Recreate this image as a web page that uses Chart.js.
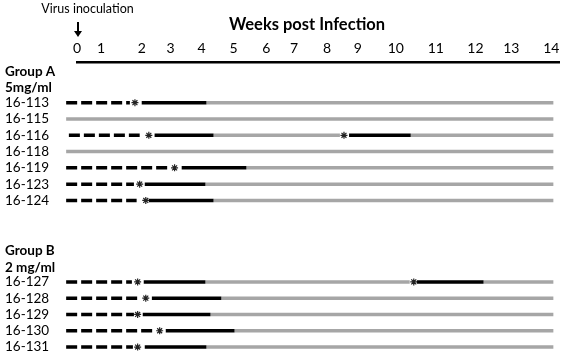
<!DOCTYPE html>
<html>
<head>
<meta charset="utf-8">
<script src="https://cdn.jsdelivr.net/npm/chart.js"></script>
<style>
  body { margin: 0; background: #fff; }
  canvas { display: block; }
</style>
</head>
<body>
<canvas id="chart" width="565" height="364"></canvas>
<script>
// rows of the figure
const groupLabels = ['Group A', 'Group B'];
const doseLabels = ['5mg/ml', '2 mg/ml'];
const animalsA = ['16-113', '16-115', '16-116', '16-118', '16-119', '16-123', '16-124'];
const animalsB = ['16-127', '16-128', '16-129', '16-130', '16-131'];

// week axis labels and where they sit on the (week) scale
const weekLabels = ['0', '1', '2', '3', '4', '5', '6', '7', '8', '9', '10', '11', '12', '13', '14'];
const weekLabelAt = [0, 0.71, 1.91, 2.76, 3.68, 4.62, 5.59, 6.41, 7.38, 8.29, 9.41, 10.59, 11.76, 12.82, 14];

// per animal (A then B), values in weeks
const lineFrom = -0.32;
const lineTo = 14.06;
const dashFrom = [-0.32, null, -0.24, null, -0.32, -0.32, -0.32, -0.32, -0.32, -0.32, -0.32, -0.32];
const dashTo = [1.56, null, 1.85, null, 2.68, 1.68, 1.76, 1.62, 1.85, 1.68, 2.29, 1.65];
const stars = [[1.71], [], [2.12, 7.88], [], [2.88], [1.85], [2.03], [1.79, 9.94], [2.03], [1.79], [2.44], [1.79]];
const solidFrom = [[1.91], [], [2.29, 8.03], [], [3.09], [2.0], [2.12], [1.97, 10.03], [2.21], [1.94], [2.62], [2.0]];
const solidTo = [[3.82], [], [4.03, 9.85], [], [5.0], [3.79], [4.03], [3.79, 12.0], [4.26], [3.94], [4.65], [3.82]];

// row numbers on the y scale
const rowsA = animalsA.map((a, i) => i);
const rowsB = animalsB.map((a, i) => 11 + i);
const rows = rowsA.concat(rowsB);

const yTicks = [
    { v: rowsA[0] - 1.9, t: groupLabels[0], bold: true },
    { v: rowsA[0] - 0.9, t: doseLabels[0], bold: true },
    ...animalsA.map((a, i) => ({ v: rowsA[i], t: a })),
    { v: rowsB[0] - 1.9, t: groupLabels[1], bold: true },
    { v: rowsB[0] - 0.9, t: doseLabels[1], bold: true },
    ...animalsB.map((a, i) => ({ v: rowsB[i], t: a }))
];

const gap = { x: null, y: null };
const grayPts = [], dashPts = [], solidPts = [], starPts = [];
rows.forEach((y, i) => {
    if (stars[i].length == 0) {
        grayPts.push({ x: lineFrom, y: y }, { x: lineTo, y: y }, gap);
        return;
    }
    dashPts.push({ x: dashFrom[i], y: y }, { x: dashTo[i], y: y }, gap);
    stars[i].forEach(s => starPts.push({ x: s, y: y }));
    solidFrom[i].forEach((f, j) => {
        solidPts.push({ x: f, y: y }, { x: solidTo[i][j], y: y }, gap);
        const next = stars[i][j + 1];
        const end = next !== undefined ? next - 0.12 : lineTo;
        grayPts.push({ x: solidTo[i][j], y: y }, { x: end, y: y }, gap);
    });
});

const lineStyle = {
    pointRadius: 0,
    borderWidth: 3.5,
    borderCapStyle: 'butt',
    tension: 0,
    spanGaps: false,
    clip: false
};

const extraText = {
    id: 'extraText',
    afterDraw(chart) {
        const ctx = chart.ctx;
        const x0 = chart.scales.x.getPixelForValue(0);
        ctx.save();
        ctx.fillStyle = '#000';
        ctx.strokeStyle = '#000';
        ctx.textAlign = 'center';
        ctx.textBaseline = 'middle';
        ctx.font = '12.5px Lato';
        ctx.fillText('Virus inoculation', x0 + 10.5, 9);
        // arrow
        ctx.lineWidth = 2;
        ctx.beginPath();
        ctx.moveTo(x0 + 1, 22);
        ctx.lineTo(x0 + 1, 32);
        ctx.stroke();
        ctx.beginPath();
        ctx.moveTo(x0 - 3, 31);
        ctx.lineTo(x0 + 5, 31);
        ctx.lineTo(x0 + 1, 37);
        ctx.closePath();
        ctx.fill();
        ctx.font = 'bold 16.5px Lato';
        ctx.fillText('Weeks post Infection', x0 + 230, 25);
        ctx.restore();
    }
};

new Chart(document.getElementById('chart'), {
    type: 'line',
    data: {
        datasets: [
            {
                data: starPts,
                showLine: false,
                pointStyle: 'star',
                pointRadius: 3.5,
                pointBorderWidth: 1.2,
                pointBorderColor: '#222',
                clip: false
            },
            Object.assign({ data: solidPts, borderColor: '#000' }, lineStyle),
            Object.assign({ data: dashPts, borderColor: '#000', borderDash: [11, 4] }, lineStyle),
            Object.assign({ data: grayPts, borderColor: '#a6a6a6' }, lineStyle)
        ]
    },
    options: {
        responsive: false,
        animation: false,
        layout: { padding: { left: 5, right: 3, top: 0, bottom: 2 } },
        plugins: {
            legend: { display: false },
            tooltip: { enabled: false }
        },
        scales: {
            x: {
                type: 'linear',
                position: 'top',
                min: 0,
                max: 14.25,
                afterBuildTicks: (scale) => {
                    scale.ticks = weekLabelAt.map(v => ({ value: v }));
                },
                afterFit: (scale) => { scale.height = 62; },
                grid: { display: false, drawTicks: false },
                border: { display: true, color: '#000', width: 2.5 },
                ticks: {
                    autoSkip: false,
                    maxRotation: 0,
                    padding: 5,
                    color: '#000',
                    font: { family: 'Lato', size: 14 },
                    callback: (v, i) => weekLabels[i]
                }
            },
            y: {
                type: 'linear',
                reverse: true,
                min: -2.5,
                max: 15.36,
                afterBuildTicks: (scale) => {
                    scale.ticks = yTicks.map(t => ({ value: t.v }));
                },
                afterFit: (scale) => { scale.width = 72; },
                grid: { display: false, drawTicks: false },
                border: { display: false },
                ticks: {
                    autoSkip: false,
                    crossAlign: 'far',
                    color: '#000',
                    font: (c) => ({ family: 'Lato', size: 13.5, weight: yTicks[c.index] && yTicks[c.index].bold ? 'bold' : 'normal' }),
                    callback: (v, i) => yTicks[i].t
                }
            }
        }
    },
    plugins: [extraText]
});
</script>
</body>
</html>
